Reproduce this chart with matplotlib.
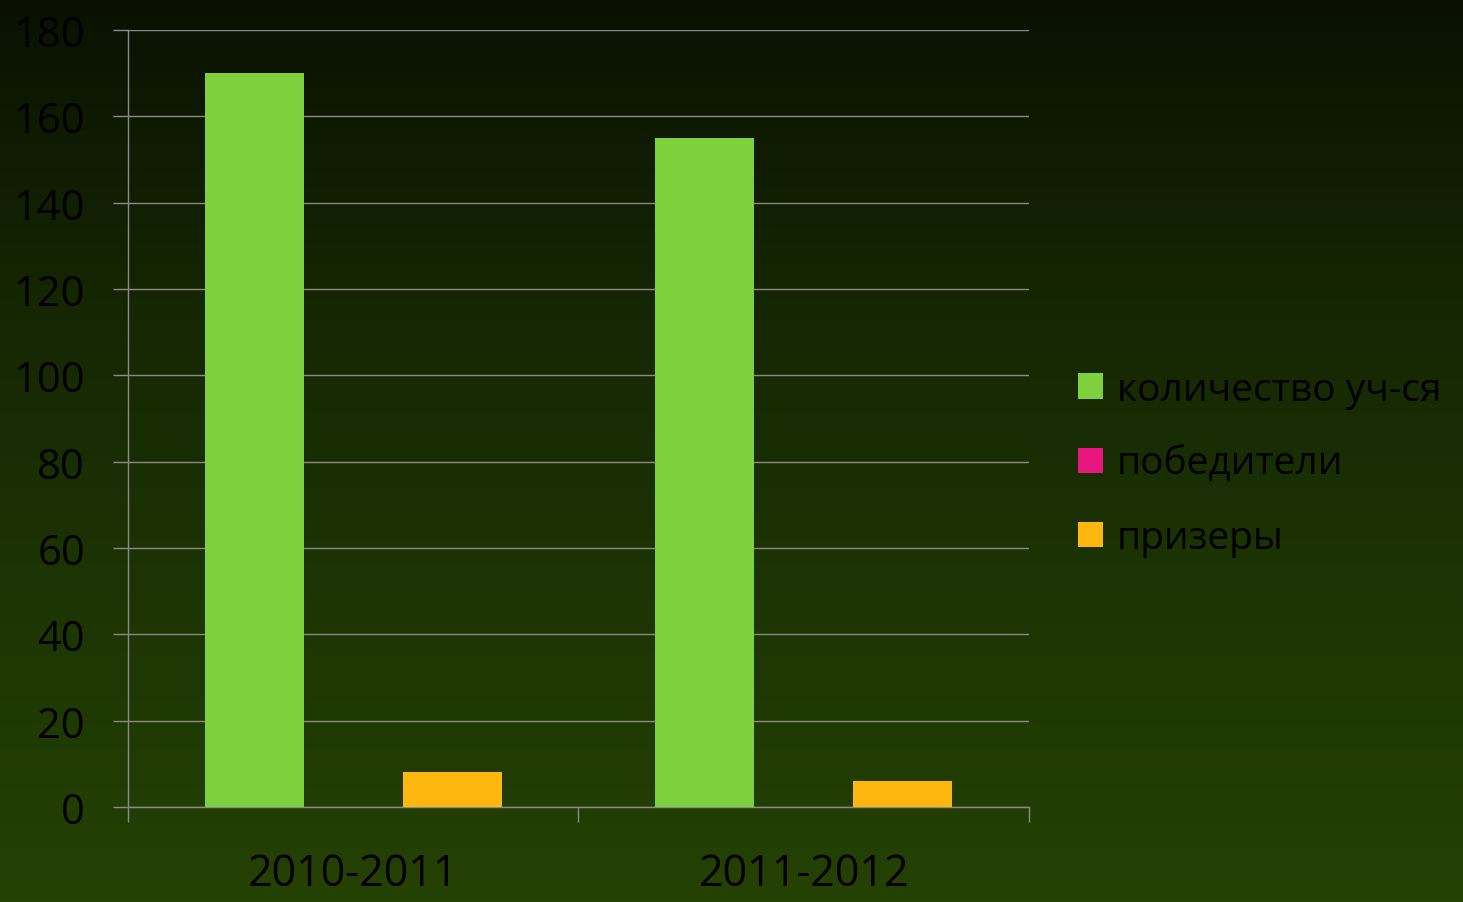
import numpy as np
import matplotlib
matplotlib.use("Agg")
import matplotlib.pyplot as plt
from matplotlib.colors import LinearSegmentedColormap
from matplotlib.patches import Patch

# data
years = ["2010-2011", "2011-2012"]
series = ["количество уч-ся", "победители", "призеры"]
students = [170, 155]
winners = [0, 0]
prizes = [8, 6]
colors = ["#7ed13c", "#e8177f", "#fdb70f"]

plt.rcParams['font.family'] = ['Open Sans', 'DejaVu Sans']

fig = plt.figure(figsize=(14.63, 9.03), dpi=100)

# dark green gradient background
bg = fig.add_axes([0, 0, 1, 1], zorder=-10)
cmap = LinearSegmentedColormap.from_list("bg", ["#0a1102", "#152603", "#1d3503", "#254103"])
bg.imshow(np.linspace(0, 1, 256).reshape(-1, 1), aspect="auto", cmap=cmap,
          extent=[0, 1, 0, 1], origin="upper")
bg.axis("off")

ax = fig.add_axes([0.0875, 0.1052, 0.6158, 0.8605])
ax.set_facecolor("none")

x = np.arange(len(years))
w = 0.22
for i, (vals, lab) in enumerate(zip([students, winners, prizes], series)):
    ax.bar(x + (i - 1) * w, vals, width=w, color=colors[i], label=lab, zorder=3)

ax.set_ylim(0, 180)
ax.set_yticks(range(0, 181, 20))
ax.set_xlim(-0.5, 1.5)
ax.grid(axis="y", color="#8a8a8a", linewidth=1, zorder=1)

for s in ["top", "right"]:
    ax.spines[s].set_visible(False)
for s in ["left", "bottom"]:
    ax.spines[s].set_color("#8a8a8a")
    ax.spines[s].set_linewidth(1)

ax.set_xticks(x)
ax.set_xticklabels(years)
ax.set_xticks([-0.5, 0.5, 1.5], minor=True)
ax.tick_params(axis="x", which="major", length=0, pad=32, labelsize=31, labelcolor="black")
ax.tick_params(axis="x", which="minor", length=11, color="#8a8a8a", width=1)
ax.tick_params(axis="y", length=11, color="#8a8a8a", width=1, pad=20, labelsize=30,
               labelcolor="black")

handles = [Patch(facecolor=c, label=l) for c, l in zip(colors, series)]
fig.legend(handles=handles, loc="center left", bbox_to_anchor=(0.737, 0.485),
           frameon=False, fontsize=28, labelcolor="black", handlelength=0.64,
           handleheight=0.64, handletextpad=0.36, labelspacing=0.93,
           borderpad=0, borderaxespad=0)

fig.savefig("out.png", dpi=100)
